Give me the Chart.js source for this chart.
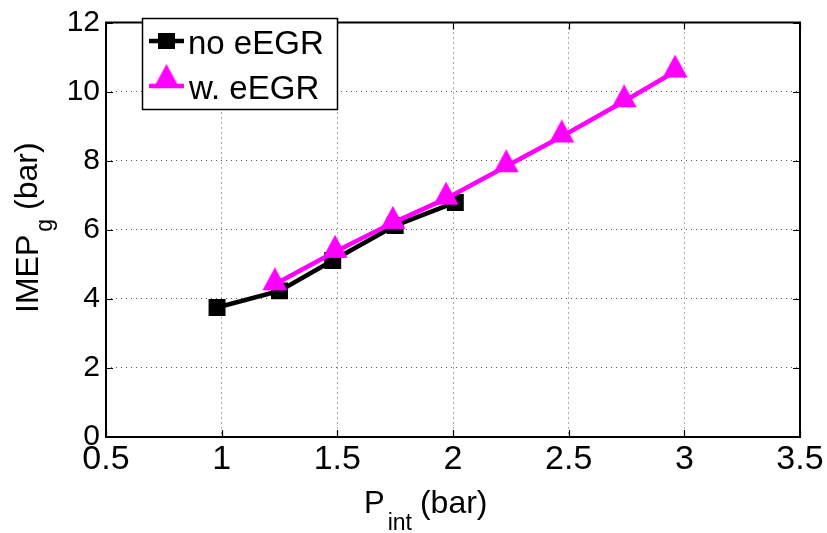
<!DOCTYPE html>
<html><head><meta charset="utf-8">
<script src="https://cdn.jsdelivr.net/npm/chart.js@4/dist/chart.umd.min.js"></script>
<style>html,body{margin:0;padding:0;background:#fff;}#wrap{width:827px;height:533px;}</style>
</head><body><div id="wrap"><canvas id="c" width="827" height="533"></canvas></div>
<script>
// ---- data ----
const seriesNames = ['no eEGR', 'w. eEGR'];
const xNoEGR = [0.98, 1.25, 1.48, 1.75, 2.01];
const yNoEGR = [3.75, 4.23, 5.11, 6.12, 6.79];
const xWithEGR = [1.23, 1.49, 1.74, 1.97, 2.23, 2.47, 2.74, 2.96];
const yWithEGR = [4.42, 5.36, 6.20, 6.90, 7.84, 8.70, 9.72, 10.58];
const xTicks = [0.5, 1, 1.5, 2, 2.5, 3, 3.5];
const yTicks = [0, 2, 4, 6, 8, 10, 12];

const FONT = '"Liberation Sans", Arial, Helvetica, sans-serif';
const BLACK = '#000000';
const MAGENTA = '#FF00FF';

function triCanvas(color) {
  const w = 26, h = 34;
  const c = document.createElement('canvas');
  c.width = w; c.height = h;
  const g = c.getContext('2d');
  g.fillStyle = color;
  g.beginPath();
  g.moveTo(w / 2, 0);
  g.lineTo(w - 0.5, 23);
  g.lineTo(0.5, 23);
  g.closePath();
  g.fill();
  return c;
}
const triMarker = triCanvas(MAGENTA);

const toPts = (xs, ys) => xs.map((x, i) => ({ x: x, y: ys[i] }));

function drawText(ctx, txt, x, y, size, align) {
  ctx.font = size + 'px ' + FONT;
  ctx.textAlign = align || 'left';
  ctx.textBaseline = 'alphabetic';
  ctx.fillText(txt, x, y);
  return ctx.measureText(txt).width;
}

const decorPlugin = {
  id: 'decor',
  afterDraw(chart) {
    const ctx = chart.ctx;
    const a = chart.chartArea;
    const xs = chart.scales.x, ys = chart.scales.y;
    ctx.save();
    // box
    ctx.strokeStyle = BLACK;
    ctx.lineWidth = 2;
    ctx.setLineDash([]);
    ctx.strokeRect(a.left, a.top, a.right - a.left, a.bottom - a.top);
    // inward ticks
    ctx.lineWidth = 1.2;
    const tl = 7;
    ctx.beginPath();
    xTicks.forEach(v => {
      const px = Math.round(xs.getPixelForValue(v)) + 0.5;
      ctx.moveTo(px, a.bottom); ctx.lineTo(px, a.bottom - tl);
      ctx.moveTo(px, a.top); ctx.lineTo(px, a.top + tl);
    });
    yTicks.forEach(v => {
      const py = Math.round(ys.getPixelForValue(v)) + 0.5;
      ctx.moveTo(a.left, py); ctx.lineTo(a.left + tl, py);
      ctx.moveTo(a.right, py); ctx.lineTo(a.right - tl, py);
    });
    ctx.stroke();

    ctx.fillStyle = BLACK;
    // x title: P_int (bar)
    let x0 = 364;
    let w = drawText(ctx, 'P', x0, 513, 31);
    let w2 = drawText(ctx, 'int', x0 + w + 3, 530, 23);
    drawText(ctx, '(bar)', x0 + w + 3 + w2 + 8, 513, 32);

    // y title: IMEP_g (bar), rotated
    ctx.save();
    ctx.translate(38, 313);
    ctx.rotate(-Math.PI / 2);
    let u = drawText(ctx, 'IMEP', 0, 0, 32);
    let u2 = drawText(ctx, 'g', u + 3, 14, 23);
    drawText(ctx, '(bar)', u + 3 + u2 + 9, -1, 32);
    ctx.restore();

    // legend
    const L = { x: 142, y: 18, w: 195, h: 91 };
    ctx.fillStyle = '#ffffff';
    ctx.fillRect(L.x, L.y, L.w, L.h);
    ctx.strokeStyle = BLACK;
    ctx.lineWidth = 1.5;
    ctx.strokeRect(L.x + 0.5, L.y + 0.5, L.w, L.h);
    // entry 1
    ctx.lineWidth = 4.5;
    ctx.strokeStyle = BLACK;
    ctx.beginPath(); ctx.moveTo(149, 41); ctx.lineTo(184, 41); ctx.stroke();
    ctx.fillStyle = BLACK;
    ctx.fillRect(158, 33, 17, 16);
    // entry 2
    ctx.strokeStyle = MAGENTA;
    ctx.beginPath(); ctx.moveTo(149, 86); ctx.lineTo(184, 86); ctx.stroke();
    ctx.drawImage(triMarker, 166.5 - 13, 86 - 22);
    ctx.fillStyle = BLACK;
    drawText(ctx, seriesNames[0], 188, 54, 33);
    drawText(ctx, seriesNames[1], 189, 99, 33);
    ctx.restore();
  }
};

new Chart(document.getElementById('c'), {
  type: 'line',
  data: {
    datasets: [
      {
        label: seriesNames[0],
        data: toPts(xNoEGR, yNoEGR),
        borderColor: BLACK,
        backgroundColor: BLACK,
        borderWidth: 4.5,
        pointStyle: 'rect',
        pointRadius: 12,
        pointBorderWidth: 0,
        pointBackgroundColor: BLACK,
        tension: 0,
        order: 2
      },
      {
        label: seriesNames[1],
        data: toPts(xWithEGR, yWithEGR),
        borderColor: MAGENTA,
        backgroundColor: MAGENTA,
        borderWidth: 4.5,
        pointStyle: triMarker,
        pointRadius: 13,
        tension: 0,
        order: 1
      }
    ]
  },
  options: {
    responsive: false,
    animation: false,
    devicePixelRatio: 1,
    layout: { padding: { top: 18, right: 27, left: 0, bottom: 0 } },
    plugins: { legend: { display: false }, tooltip: { enabled: false } },
    scales: {
      x: {
        type: 'linear', min: 0.5, max: 3.5,
        afterBuildTicks: s => { s.ticks = xTicks.map(v => ({ value: v })); },
        afterFit: s => { s.height = 96; },
        ticks: { font: { family: FONT, size: 34, lineHeight: 1.2 }, color: BLACK, padding: 2, maxRotation: 0, autoSkip: false,
                 callback: v => String(v) },
        grid: { color: '#555555', lineWidth: 1, drawTicks: false },
        border: { display: false, dash: [1, 4] }
      },
      y: {
        type: 'linear', min: 0, max: 12,
        afterBuildTicks: s => { s.ticks = yTicks.map(v => ({ value: v })); },
        afterFit: s => { s.width = 106; },
        ticks: { font: { family: FONT, size: 30, lineHeight: 1.1 }, color: BLACK, padding: 6, autoSkip: false,
                 callback: v => String(v) },
        grid: { color: '#555555', lineWidth: 1, drawTicks: false },
        border: { display: false, dash: [1, 4] }
      }
    }
  },
  plugins: [decorPlugin]
});
</script>
</body></html>
